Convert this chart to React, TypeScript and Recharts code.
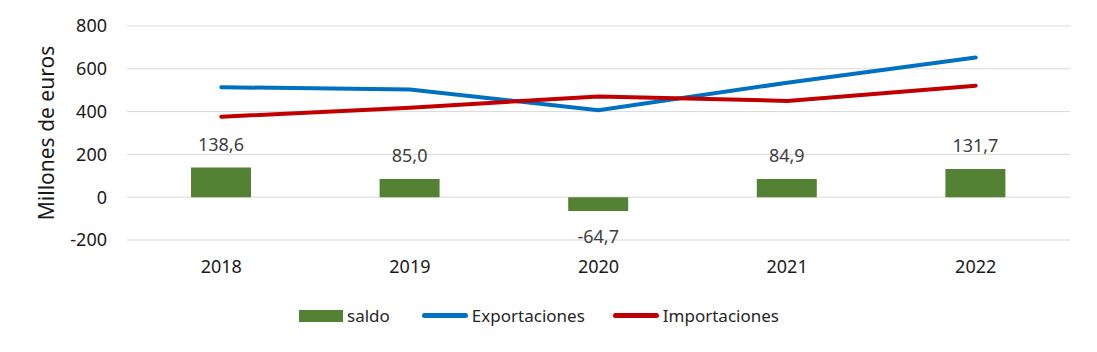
import {
  Bar,
  CartesianGrid,
  ComposedChart,
  Label,
  LabelList,
  Legend,
  Line,
  XAxis,
  YAxis,
} from "recharts";

const years = ["2018", "2019", "2020", "2021", "2022"];
const saldo = [138.6, 85.0, -64.7, 84.9, 131.7];
const exportaciones = [514, 503, 406, 535, 653];
const importaciones = [376, 418, 471, 450, 521];
const yTicks = [-200, 0, 200, 400, 600, 800];

const FONT = "'Noto Sans', 'Open Sans', sans-serif";
const GREEN = "#548235";
const BLUE = "#0070C0";
const RED = "#C00000";

const data = years.map((y, i) => ({
  year: y,
  saldo: saldo[i],
  Exportaciones: exportaciones[i],
  Importaciones: importaciones[i],
}));

const fmt = (v: number) => v.toFixed(1).replace(".", ",");

function SaldoLabel(props: any) {
  const { x, y, width, height, value } = props;
  const neg = value < 0;
  const cx = x + width / 2;
  const top = Math.min(y, y + height);
  const bottom = Math.max(y, y + height);
  return (
    <text
      x={cx}
      y={neg ? bottom + 32 : top - 17}
      textAnchor="middle"
      fontSize={18}
      fontFamily={FONT}
      fill="#404040"
    >
      {fmt(value)}
    </text>
  );
}

function LegendContent() {
  const item = (swatch: JSX.Element, text: string, gap: number) => (
    <div style={{ display: "flex", alignItems: "center", marginRight: gap }}>
      {swatch}
      <span style={{ marginLeft: 4 }}>{text}</span>
    </div>
  );
  return (
    <div
      style={{
        display: "flex",
        justifyContent: "center",
        fontFamily: FONT,
        fontSize: 17,
        color: "#262626",
        paddingLeft: 8,
        paddingTop: 19,
      }}
    >
      {item(<div style={{ width: 44, height: 12, background: GREEN }} />, "saldo", 32)}
      {item(
        <div style={{ width: 46, height: 5, borderRadius: 3, background: BLUE }} />,
        "Exportaciones",
        28
      )}
      {item(
        <div style={{ width: 46, height: 5, borderRadius: 3, background: RED }} />,
        "Importaciones",
        0
      )}
    </div>
  );
}

export default function App() {
  return (
    <div style={{ position: "absolute", left: 0, top: 0, width: 1097, height: 352, background: "#fff" }}>
      <ComposedChart
        width={1097}
        height={352}
        data={data}
        margin={{ top: 26, right: 27, left: 0, bottom: 10 }}
      >
        <CartesianGrid stroke="#d9d9d9" vertical={false} />
        <XAxis
          dataKey="year"
          axisLine={false}
          tickLine={false}
          tickSize={0}
          tickMargin={20}
          height={45}
          tick={{ fontSize: 18, fontFamily: FONT, fill: "#1a1a1a" }}
        />
        <YAxis
          domain={[-200, 800]}
          ticks={yTicks}
          interval={0}
          axisLine={false}
          tickLine={false}
          tickSize={0}
          tickMargin={20}
          width={127}
          tick={{ fontSize: 18, fontFamily: FONT, fill: "#1a1a1a" }}
        >
          <Label
            value="Millones de euros"
            angle={-90}
            position="insideLeft"
            dx={42}
            style={{ fontSize: 21, fontFamily: FONT, fill: "#1a1a1a", textAnchor: "middle" }}
          />
        </YAxis>
        <Legend verticalAlign="bottom" height={57} content={<LegendContent />} />
        <Bar dataKey="saldo" fill={GREEN} barSize={60} isAnimationActive={false}>
          <LabelList dataKey="saldo" content={<SaldoLabel />} />
        </Bar>
        <Line
          dataKey="Exportaciones"
          type="linear"
          stroke={BLUE}
          strokeWidth={4}
          strokeLinecap="round"
          dot={false}
          activeDot={false}
          isAnimationActive={false}
        />
        <Line
          dataKey="Importaciones"
          type="linear"
          stroke={RED}
          strokeWidth={4}
          strokeLinecap="round"
          dot={false}
          activeDot={false}
          isAnimationActive={false}
        />
      </ComposedChart>
    </div>
  );
}
